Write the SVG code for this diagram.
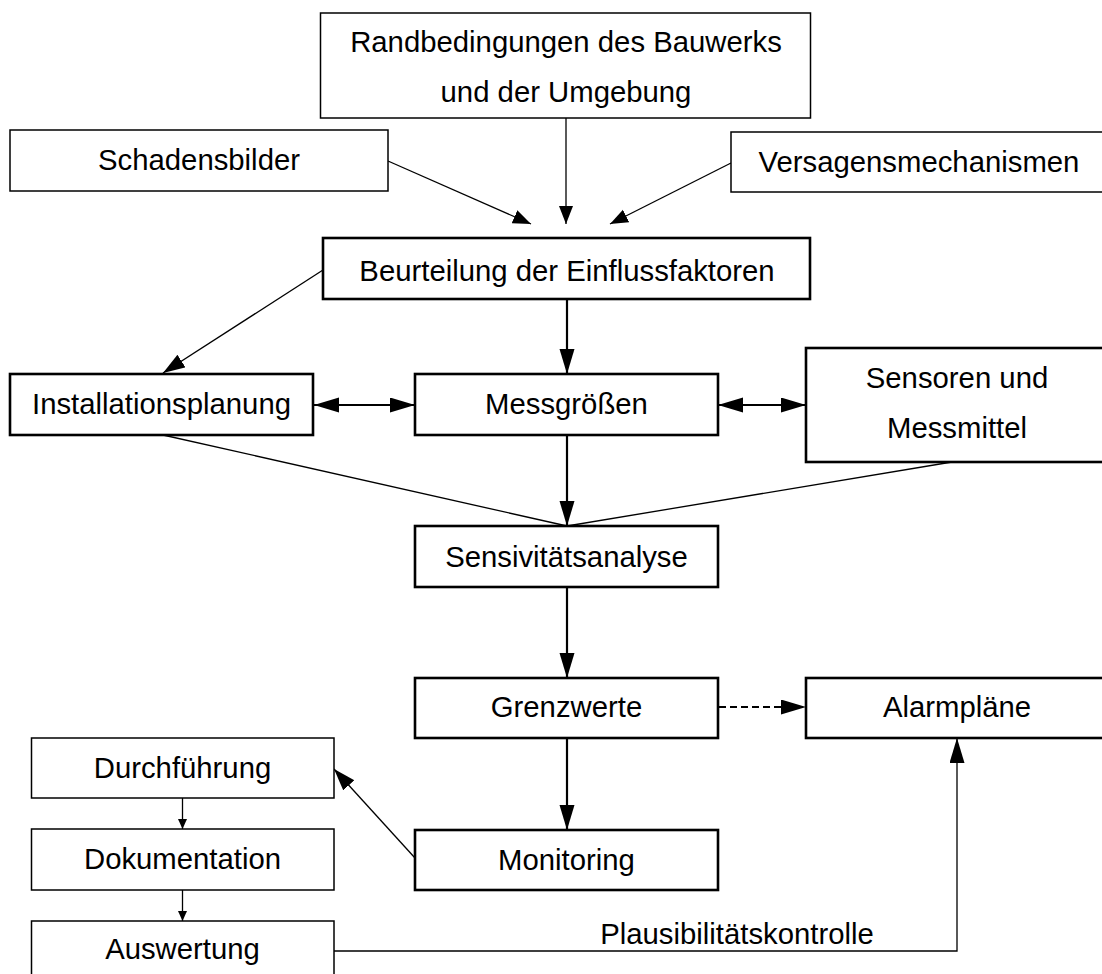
<svg xmlns="http://www.w3.org/2000/svg" width="1102" height="974" viewBox="0 0 1102 974">
<defs>
<style>
.box{fill:#fff;stroke:#000;stroke-width:1.5}
.bx2{fill:#fff;stroke:#000;stroke-width:2.6}
.t{font-family:"Liberation Sans",Arial,sans-serif;font-size:29.3px;fill:#000;text-anchor:middle}
.ln{fill:none;stroke:#000;stroke-width:1.3}
.lt{fill:none;stroke:#000;stroke-width:2.2}
</style>
<marker id="big" markerUnits="userSpaceOnUse" markerWidth="26" markerHeight="16" refX="25" refY="7.5" orient="auto-start-reverse"><path d="M0,0 L25,7.5 L0,15 z" fill="#000"/></marker>
<marker id="mid" markerUnits="userSpaceOnUse" markerWidth="23" markerHeight="16" refX="22" refY="7.5" orient="auto"><path d="M0,0 L22,7.5 L0,15 z" fill="#000"/></marker>
<marker id="thin" markerUnits="userSpaceOnUse" markerWidth="19" markerHeight="15" refX="18" refY="7" orient="auto"><path d="M0,0 L18,7 L0,14 z" fill="#000"/></marker>
<marker id="sm" markerUnits="userSpaceOnUse" markerWidth="11" markerHeight="10" refX="10" refY="4.5" orient="auto"><path d="M0,0 L10,4.5 L0,9 z" fill="#000"/></marker>
</defs>
<rect width="1102" height="974" fill="#fff"/>

<g id="connectors">
<line class="ln" x1="388" y1="161" x2="531" y2="224" marker-end="url(#thin)"/>
<line class="ln" x1="566" y1="118" x2="566" y2="224" marker-end="url(#thin)"/>
<line class="ln" x1="731" y1="163" x2="610" y2="224" marker-end="url(#thin)"/>
<line class="ln" x1="323" y1="270" x2="163" y2="373" marker-end="url(#mid)"/>
<line class="lt" x1="567" y1="299" x2="567" y2="374" marker-end="url(#big)"/>
<line class="lt" x1="314" y1="405" x2="415" y2="405" marker-start="url(#big)" marker-end="url(#big)"/>
<line class="lt" x1="718" y1="405" x2="806" y2="405" marker-start="url(#big)" marker-end="url(#big)"/>
<line class="ln" x1="163" y1="435" x2="567" y2="526"/>
<line class="ln" x1="952" y1="462" x2="567" y2="526"/>
<line class="lt" x1="567" y1="435" x2="567" y2="526" marker-end="url(#big)"/>
<line class="lt" x1="567" y1="587" x2="567" y2="678" marker-end="url(#big)"/>
<line class="lt" x1="719" y1="707" x2="806" y2="707" stroke-dasharray="7,4" marker-end="url(#big)"/>
<line class="lt" x1="567" y1="738" x2="567" y2="830" marker-end="url(#big)"/>
<line class="ln" x1="415" y1="858" x2="334" y2="769" marker-end="url(#mid)"/>
<line class="ln" x1="182.5" y1="798" x2="182.5" y2="829" marker-end="url(#sm)"/>
<line class="ln" x1="182.5" y1="890" x2="182.5" y2="921" marker-end="url(#sm)"/>
<polyline class="ln" points="334,951 957,951 957,738" stroke="#333" marker-end="url(#big)"/>
<text class="t" x="737" y="944">Plausibilitätskontrolle</text>
</g>

<g id="randbedingungen"><rect class="box" x="320.5" y="13" width="490" height="105"/><text class="t" x="566" y="52">Randbedingungen des Bauwerks</text><text class="t" x="566" y="102">und der Umgebung</text></g>
<g id="schadensbilder"><rect class="box" x="10" y="130" width="378" height="61"/><text class="t" x="199" y="170">Schadensbilder</text></g>
<g id="versagensmechanismen"><rect class="box" x="731" y="132" width="377" height="60"/><text class="t" x="919" y="172">Versagensmechanismen</text></g>
<g id="beurteilung"><rect class="bx2" x="323" y="238" width="487" height="61"/><text class="t" x="567" y="281">Beurteilung der Einflussfaktoren</text></g>
<g id="installationsplanung"><rect class="bx2" x="10" y="374" width="303" height="61"/><text class="t" x="161.5" y="414">Installationsplanung</text></g>
<g id="messgroessen"><rect class="bx2" x="415" y="374" width="303" height="61"/><text class="t" x="566.5" y="414">Messgrößen</text></g>
<g id="sensoren"><rect class="bx2" x="806" y="348" width="302" height="114"/><text class="t" x="957" y="388">Sensoren und</text><text class="t" x="957" y="438">Messmittel</text></g>
<g id="sensitivitaetsanalyse"><rect class="bx2" x="415" y="526" width="303" height="61"/><text class="t" x="566.5" y="567">Sensivitätsanalyse</text></g>
<g id="grenzwerte"><rect class="bx2" x="415" y="678" width="303" height="60"/><text class="t" x="566.5" y="717">Grenzwerte</text></g>
<g id="alarmplaene"><rect class="bx2" x="806" y="678" width="302" height="60"/><text class="t" x="957" y="717">Alarmpläne</text></g>
<g id="monitoring"><rect class="bx2" x="415" y="830" width="303" height="60"/><text class="t" x="566.5" y="870">Monitoring</text></g>
<g id="durchfuehrung"><rect class="box" x="31.5" y="738" width="302.5" height="60"/><text class="t" x="182.5" y="778">Durchführung</text></g>
<g id="dokumentation"><rect class="box" x="31.5" y="829" width="302.5" height="61"/><text class="t" x="182.5" y="869">Dokumentation</text></g>
<g id="auswertung"><rect class="box" x="31.5" y="921" width="302.5" height="61"/><text class="t" x="182.5" y="959">Auswertung</text></g>
</svg>
